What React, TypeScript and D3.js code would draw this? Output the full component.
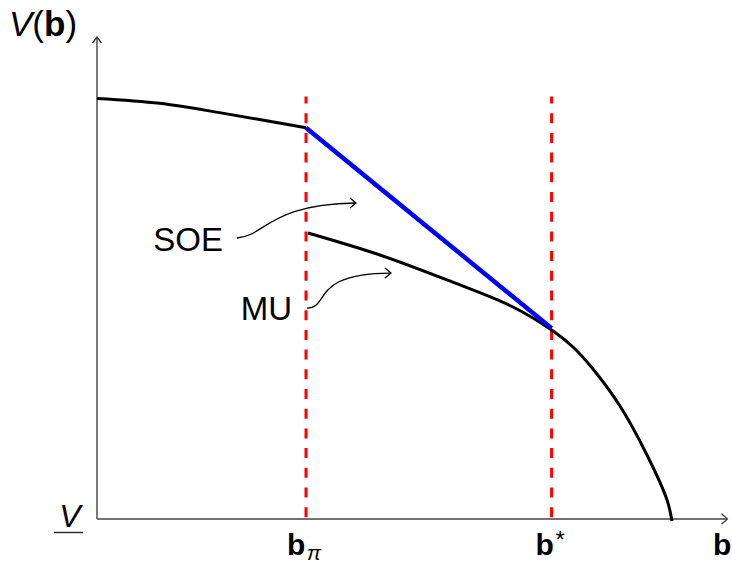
import React from "react";
import * as d3 from "d3";

// Value function V(b) under the two regimes
const upperB = [0, 0.6, 1.2, 2.0];
const upperV = [4.3, 4.25, 4.15, 4.0];

const lowerB = [2.019, 2.708, 3.349, 3.981, 4.364, 4.555, 4.746, 5.005, 5.263, 5.455, 5.502];
const lowerV = [2.924, 2.699, 2.444, 2.168, 1.922, 1.759, 1.534, 1.155, 0.654, 0.194, -0.02];

// Thresholds on the b axis
const thresholdNames = ["bPi", "bStar"];
const thresholdB = [2.0, 4.35];
const thresholdTop = 4.32;

// Linear segment joining the two curves
const chordB = [2.0, 4.35];
const chordV = [4.0, 1.95];

// Callout labels with their curved pointers (start, ctrl1, ctrl2, end) in data units
const calloutText = ["SOE", "MU"];
const calloutB = [
  [1.34, 1.608, 1.656, 2.478],
  [2.01, 2.23, 2.038, 2.813],
];
const calloutV = [
  [2.873, 2.894, 3.221, 3.231],
  [2.157, 2.157, 2.515, 2.515],
];

const W = 732;
const H = 563;
const FONT = "'Liberation Sans', Arial, sans-serif";

export default function App() {
  const x = d3.scaleLinear().domain([0, 6]).range([97, 724]);
  const y = d3.scaleLinear().domain([0, 5]).range([519, 30]);

  const line = d3
    .line<[number, number]>()
    .x((d) => x(d[0]))
    .y((d) => y(d[1]))
    .curve(d3.curveCatmullRom.alpha(0.5));

  const upper = line(upperB.map((b, i) => [b, upperV[i]]) as [number, number][]) || "";
  const lower = line(lowerB.map((b, i) => [b, lowerV[i]]) as [number, number][]) || "";

  const x0 = x(0);
  const y0 = y(0);
  const axisColor = "#333";

  const callouts = calloutText.map((t, i) => {
    const px = calloutB[i].map((b) => x(b));
    const py = calloutV[i].map((v) => y(v));
    const p = d3.path();
    p.moveTo(px[0], py[0]);
    p.bezierCurveTo(px[1], py[1], px[2], py[2], px[3], py[3]);
    return { t, d: p.toString(), sx: px[0], sy: py[0], ex: px[3], ey: py[3] };
  });

  return (
    <svg width={W} height={H} style={{ position: "absolute", left: 0, top: 0 }} fontFamily={FONT}>
      <rect width={W} height={H} fill="#fff" />

      {/* axes */}
      <line x1={x0} y1={y0} x2={x0} y2={37} stroke={axisColor} strokeWidth={1.3} />
      <path d={`M${x0 - 4.5},${43} L${x0},${37} L${x0 + 4.5},${43}`} fill="none" stroke={axisColor} strokeWidth={1.3} />
      <line x1={x0} y1={y0} x2={727} y2={y0} stroke="#444" strokeWidth={1.6} />
      <path d={`M${721.5},${y0 - 5.3} L${727.5},${y0} L${721.5},${y0 + 5.3}`} fill="none" stroke="#444" strokeWidth={1.3} />

      {/* threshold lines */}
      {thresholdB.map((b, i) => (
        <line
          key={thresholdNames[i]}
          x1={x(b)}
          x2={x(b)}
          y1={y(thresholdTop)}
          y2={y0}
          stroke="#ff0000"
          strokeWidth={3}
          strokeDasharray="10 9.7"
          strokeDashoffset={3}
        />
      ))}

      {/* curves */}
      <path d={upper} fill="none" stroke="#000" strokeWidth={3} />
      <path d={lower} fill="none" stroke="#000" strokeWidth={3} />
      <line
        x1={x(chordB[0])}
        y1={y(chordV[0])}
        x2={x(chordB[1])}
        y2={y(chordV[1])}
        stroke="#0000ff"
        strokeWidth={4.5}
      />

      {/* callouts */}
      {callouts.map((c, i) => (
        <g key={c.t}>
          <path d={c.d} fill="none" stroke="#000" strokeWidth={1.3} />
          <path
            d={`M${c.ex - 6},${c.ey - 5} L${c.ex},${c.ey} L${c.ex - 6},${c.ey + 5}`}
            fill="none"
            stroke="#000"
            strokeWidth={1.3}
          />
          <text
            x={c.sx - (i === 0 ? 14 : 15)}
            y={c.sy + (i === 0 ? 13 : 12)}
            textAnchor="end"
            fontSize={33}
            fill="#000"
          >
            {c.t}
          </text>
        </g>
      ))}

      {/* axis labels */}
      <text x={9} y={36} fontSize={35} fill="#000">
        <tspan fontStyle="italic">V</tspan>
        <tspan>(</tspan>
        <tspan fontWeight="bold">b</tspan>
        <tspan>)</tspan>
      </text>
      <text x={70} y={527} fontSize={32} fontStyle="italic" textAnchor="middle" fill="#000">
        V
      </text>
      <line x1={54} x2={83} y1={532.5} y2={532.5} stroke="#333" strokeWidth={1.5} />

      <text x={x(thresholdB[0]) - 19} y={555} fontSize={30} fontWeight="bold" fill="#000">
        b
      </text>
      <text x={x(thresholdB[0]) + 1} y={560} fontSize={21} fontStyle="italic" fill="#000">
        π
      </text>
      <text x={x(thresholdB[1]) - 16} y={555} fontSize={30} fontWeight="bold" fill="#000">
        b
      </text>
      <text x={x(thresholdB[1]) + 4} y={548} fontSize={24} fill="#000">
        *
      </text>
      <text x={713} y={555} fontSize={30} fontWeight="bold" fill="#000">
        b
      </text>
    </svg>
  );
}
